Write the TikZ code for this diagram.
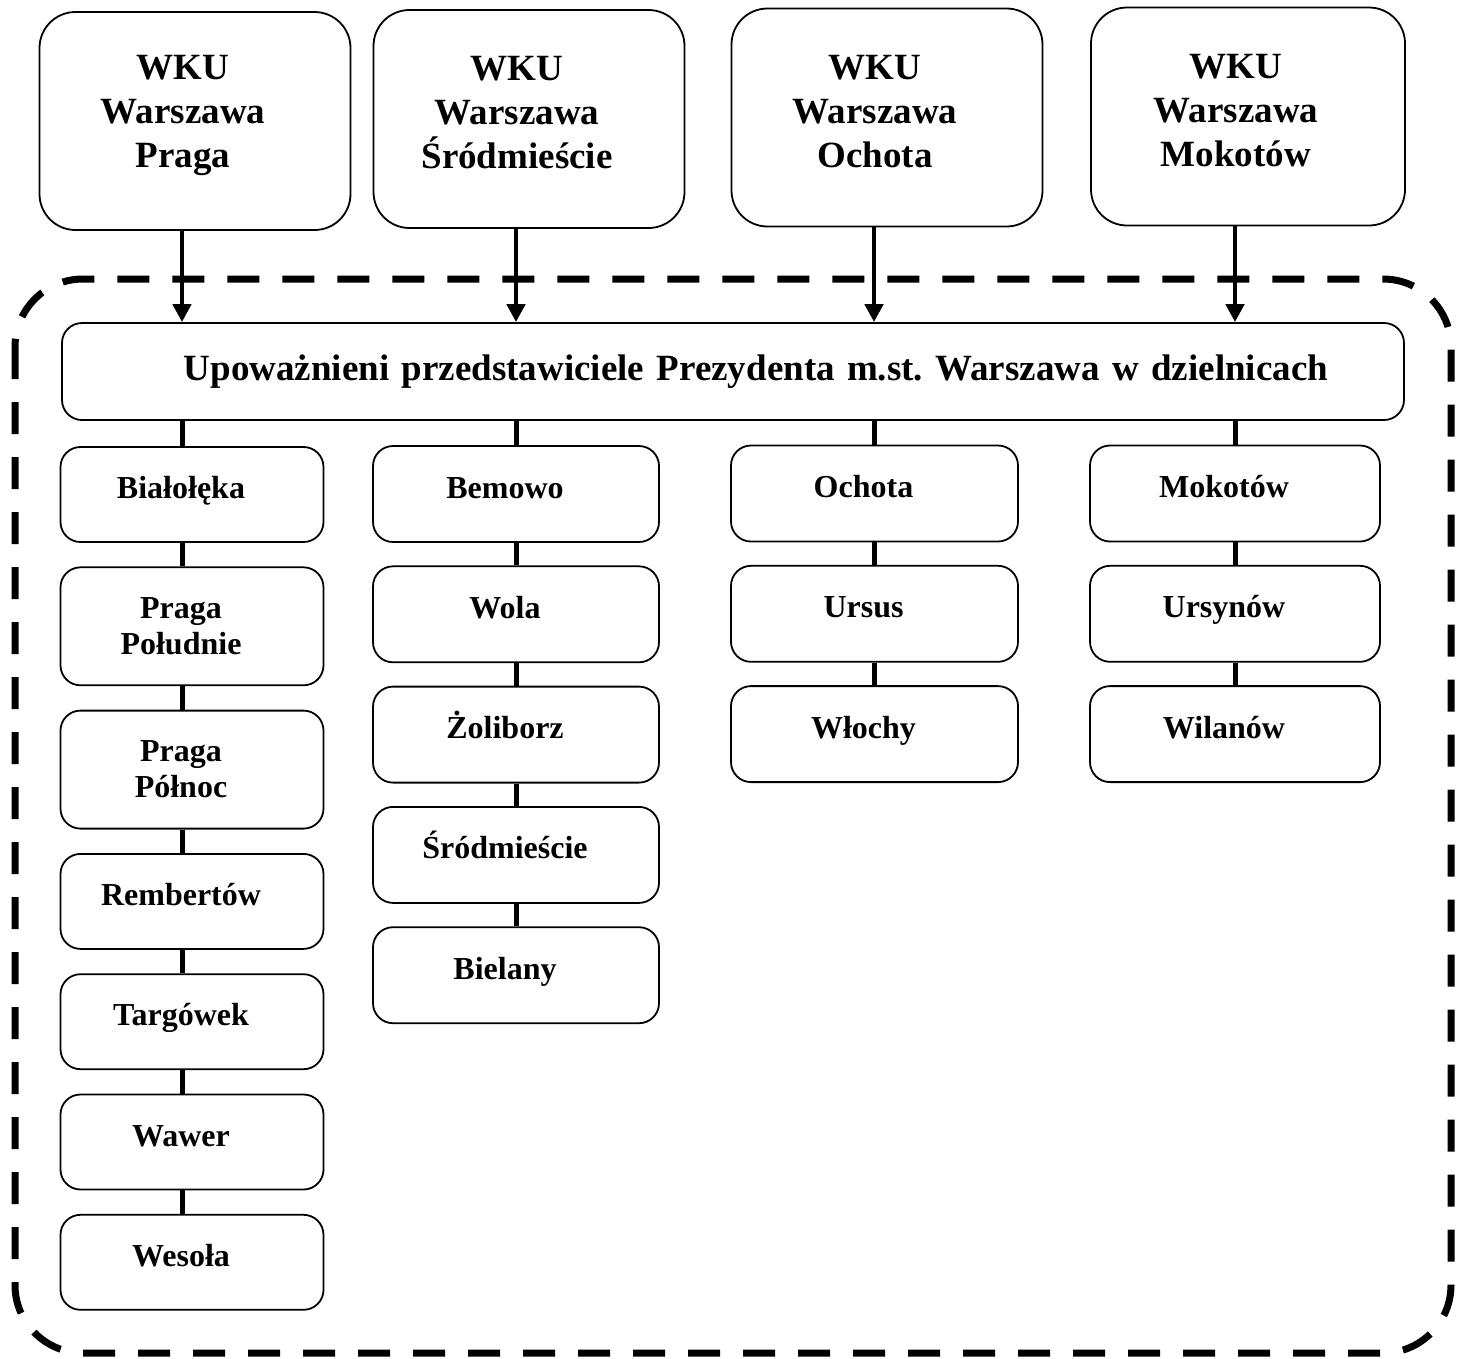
\documentclass[tikz,border=0pt]{standalone}
\usepackage{fontspec}
\setmainfont{Liberation Serif}
\usetikzlibrary{arrows.meta}
\usetikzlibrary{positioning}

\begin{document}
\begin{tikzpicture}[x=1pt, y=-1pt,
    naLewo/.style={execute at begin node={\leftskip=0pt plus 1fil\rightskip=#1 plus 1fil\parfillskip=0pt\let\\\endgraf}},
    wku/.style={draw, line width=1.8pt, rounded corners=36pt, minimum width=311pt, minimum height=218pt, text width=240pt, naLewo=24pt,
        execute at end node={\endgraf\vspace*{12pt}}, font=\fontsize{37}{44}\selectfont\bfseries},
    upow/.style={draw, line width=1.8pt, rounded corners=20pt, minimum width=1342pt, minimum height=97pt, text width=1250pt,
        execute at begin node={\leftskip=46pt plus 1fil\rightskip=0pt plus 1fil\parfillskip=0pt}, font=\fontsize{37}{44}\selectfont\bfseries},
    dz/.style={draw, line width=1.8pt, rounded corners=20pt, minimum height=96pt, text width=200pt, naLewo=22pt,
        text height=24pt, text depth=16pt, font=\fontsize{32}{36}\selectfont\bfseries},
    dwa/.style={minimum height=118pt, text height={}, text depth={}},
    conn/.style={line width=5pt},
    arr/.style={line width=4.5pt, -{Triangle[width=18pt,length=18pt]}}]
    \useasboundingbox (0,0) rectangle (1462,1358);
    % frame
    \draw[line width=7pt, dash pattern=on 32pt off 23pt, rounded corners=68pt] (15,279) rectangle (1451,1353);

    \coordinate (xA) at (182,0);
    \coordinate (xB) at (516,0);
    \coordinate (xC) at (874,0);
    \coordinate (xD) at (1235,0);

    \node[wku] (wkuA) at (195,121) {WKU\\Warszawa\\Praga};
    \node[wku] (wkuB) at (529,119) {WKU\\Warszawa\\Śródmieście};
    \node[wku] (wkuC) at (887,117.5) {WKU\\Warszawa\\Ochota};
    \node[wku, minimum width=314pt] (wkuD) at (1248,116.5) {WKU\\Warszawa\\Mokotów};

    \node[upow] (up) at (733,371.5) {Upoważnieni przedstawiciele Prezydenta m.st.\ Warszawa w dzielnicach};

    \foreach \w/\x in {wkuA/xA,wkuB/xB,wkuC/xC,wkuD/xD}
        \draw[arr] (\w.south -| \x) -- (up.north -| \x);

    % kolumna 1
    \begin{scope}[node distance=23.5pt, every node/.style={dz, minimum width=263pt, minimum height=95pt}]
        \node (bial) at (192,494.5) {Białołęka};
        \node[below=of bial, dwa] (ppol) {Praga\\Południe};
        \node[below=of ppol, dwa] (ppn) {Praga\\Północ};
        \node[below=of ppn] (remb) {Rembertów};
        \node[below=of remb] (targ) {Targówek};
        \node[below=of targ] (wawer) {Wawer};
        \node[below=of wawer] (wesola) {Wesoła};
    \end{scope}

    % kolumna 2
    \begin{scope}[node distance=22.5pt, every node/.style={dz, minimum width=286pt}]
        \node (bem) at (516,494) {Bemowo};
        \node[below=of bem] (wola) {Wola};
        \node[below=of wola] (zoli) {Żoliborz};
        \node[below=of zoli] (srod) {Śródmieście};
        \node[below=of srod] (biel) {Bielany};
    \end{scope}

    % kolumna 3
    \begin{scope}[node distance=22.5pt, every node/.style={dz, minimum width=287pt}]
        \node (ocho) at (874.5,493.5) {Ochota};
        \node[below=of ocho] (ursus) {Ursus};
        \node[below=of ursus] (wlochy) {Włochy};
    \end{scope}

    % kolumna 4
    \begin{scope}[node distance=22.5pt, every node/.style={dz, minimum width=290pt}]
        \node (moko) at (1235,493.5) {Mokotów};
        \node[below=of moko] (ursyn) {Ursynów};
        \node[below=of ursyn] (wilan) {Wilanów};
    \end{scope}

    \foreach \c/\x in {bial/xA,bem/xB,ocho/xC,moko/xD}
        \draw[conn] (up.south -| \x) -- (\c.north -| \x);
    \foreach \a/\b/\x in {bial/ppol/xA, ppol/ppn/xA, ppn/remb/xA, remb/targ/xA, targ/wawer/xA, wawer/wesola/xA,
                          bem/wola/xB, wola/zoli/xB, zoli/srod/xB, srod/biel/xB,
                          ocho/ursus/xC, ursus/wlochy/xC, moko/ursyn/xD, ursyn/wilan/xD}
        \draw[conn] (\a.south -| \x) -- (\b.north -| \x);
\end{tikzpicture}
\end{document}
